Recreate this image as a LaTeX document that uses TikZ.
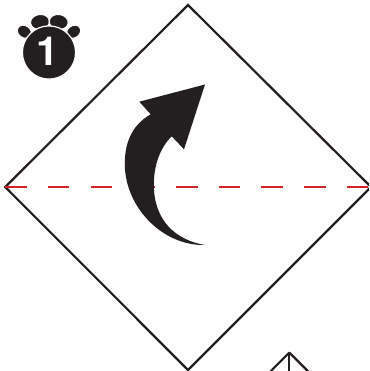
\documentclass[tikz,border=0pt]{standalone}
\usepackage{fontspec}
\setsansfont{TeX Gyre Heros}
\definecolor{cInk}{HTML}{231F20}
\definecolor{cFold}{HTML}{D2232A}
\tikzset{
  sheet/.style={draw=cInk, line width=2.2pt, line join=miter},
  fold/.style={draw=cFold, line width=2.2pt, dash pattern=on 21.5pt off 21.2pt},
  ink/.style={fill=cInk, draw=none},
  pad/.style={fill=cInk, draw=white, line width=1.2pt},
  badge/.style={font=\fontsize{40}{40}\bfseries\sffamily, text=white, inner sep=0pt},
}
\begin{document}
\begin{tikzpicture}[x=1pt, y=-1pt]
\clip (0,0) rectangle (369,371);
\coordinate (top) at (188,5);
\coordinate (left) at (5.2,187);
\coordinate (right) at (371,187);
\coordinate (bottom) at (188,370);
\coordinate (apex) at (289.3,352.5);
% folded sheet
\draw[sheet] (top) -- (right) -- (bottom) -- (left) -- cycle;
\draw[fold] (left) -- (right);
% next step, cut off by the page
\draw[sheet] (apex) -- +(-22,22);
\draw[sheet] (apex) -- +(22,22);
\draw[sheet] (apex) -- +(0,22);
% turn-over arrow
\fill[ink] (205,84.5) -- (139.3,101.7) -- (150.7,114.3)
  .. controls (130,126) and (124.5,146) .. (124.8,165)
  .. controls (125.5,208) and (163,246) .. (205,245)
  .. controls (175,240) and (154,220) .. (153.8,185)
  .. controls (153.8,165) and (160,148) .. (171.7,136.3)
  -- (184,149.3) -- cycle;
% step badge
\filldraw[pad, rotate around={-35:(24.3,31.7)}] (24.3,31.7) ellipse (7.4 and 6.2);
\filldraw[pad, rotate around={35:(73.7,31.7)}] (73.7,31.7) ellipse (7.4 and 6.2);
\filldraw[pad, rotate around={8:(40,22)}] (40,22) ellipse (9.6 and 7.6);
\filldraw[pad, rotate around={-8:(58.7,22)}] (58.7,22) ellipse (9.6 and 7.6);
\filldraw[pad] (49,52.5) circle (26.6);
\node[badge] (stepno) at (47.5,51.7) {1};
\end{tikzpicture}
\end{document}
